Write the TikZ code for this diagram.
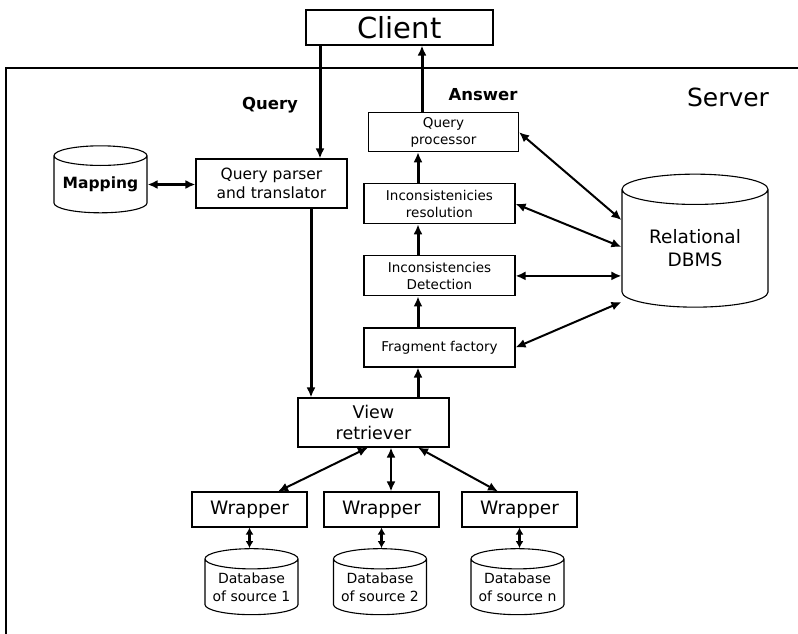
\documentclass[tikz,border=0pt]{standalone}
\usepackage{fontspec}
\setmainfont{DejaVu Sans}
\usetikzlibrary{arrows.meta, positioning, shapes.geometric}

\begin{document}
\begin{tikzpicture}[x=1pt, y=1pt,
        box/.style={draw, line width=1.1pt, inner sep=0pt, align=center},
        smallbox/.style={box, minimum width=151pt, minimum height=40pt, font=\fontsize{13.5}{17}\selectfont},
        wrapbox/.style={box, minimum width=115pt, minimum height=35pt, font=\fontsize{18.5}{22}\selectfont},
        dbase/.style={draw, line width=1.1pt, cylinder, shape border rotate=90, aspect=0.26, inner sep=0pt, align=center},
        srcdb/.style={dbase, minimum width=93pt, minimum height=66pt, font=\fontsize{14}{18}\selectfont},
        flow/.style={line width=3pt, -{Latex[length=10pt, width=9pt]}},
        link/.style={line width=2.2pt, {Latex[length=10pt, width=9pt]}-{Latex[length=10pt, width=9pt]}},
        shortlink/.style={line width=3pt, {Latex[length=7pt, width=8pt]}-{Latex[length=7pt, width=8pt]}},
        tag/.style={font=\fontsize{16.5}{20}\selectfont\bfseries}]
    \useasboundingbox (0,0) rectangle (798,-634);
    \draw[line width=1.1pt] (798,-68) -| (6,-634);
    \node[box, minimum width=187pt, minimum height=35pt, font=\fontsize{29}{34}\selectfont] (client) at (399.5,-27.5) {Client};
    \node[font=\fontsize{25}{28}\selectfont] (server) at (728,-97) {Server};
    \node[tag] (query) at (270,-105) {Query};
    \node[tag] (answer) at (483,-95) {Answer};

    \node[box, minimum width=151pt, minimum height=49pt, font=\fontsize{15.5}{19}\selectfont] (parser) at (271.5,-183.5) {Query parser\\and translator};
    \node[dbase, minimum width=93pt, minimum height=67pt, font=\fontsize{15.5}{19}\selectfont\bfseries] (mapping) at (100.5,-184.5) {Mapping};

    \node[smallbox, minimum height=39pt] (fragment) at (439.5,-347.5) {Fragment factory};
    \node[smallbox, above=31pt of fragment] (detect) {Inconsistencies\\Detection};
    \node[smallbox, above=31pt of detect] (resol) {Inconsistenicies\\resolution};
    \node[smallbox, minimum width=150pt, minimum height=39pt, above=31pt of resol, xshift=4pt] (qproc) {Query\\processor};
    \node[dbase, aspect=0.33, minimum width=146pt, minimum height=133pt, font=\fontsize{18.5}{23}\selectfont] (dbms) at (695,-248.5) {Relational\\DBMS};

    \node[box, minimum width=151pt, minimum height=49pt, font=\fontsize{17.5}{21}\selectfont] (view) at (373.5,-422.5) {View\\retriever};
    \node[wrapbox] (wrapA) at (249.5,-509.5) {Wrapper};
    \node[wrapbox] (wrapB) at (381.5,-509.5) {Wrapper};
    \node[wrapbox] (wrapC) at (519.5,-509.5) {Wrapper};
    \node[srcdb] (srcA) at (251.5,-587) {Database\\of source 1};
    \node[srcdb] (srcB) at (380,-587) {Database\\of source 2};
    \node[srcdb] (srcC) at (517.5,-587) {Database\\of source n};

    \coordinate (qlane) at (320,0);
    \coordinate (alane) at (422,0);
    \coordinate (plane) at (311,0);
    \coordinate (flane) at (418,0);

    \draw[flow] (client.south -| qlane) -- (parser.north -| qlane);
    \draw[flow] (qproc.north -| alane) -- (client.south -| alane);
    \draw[link] (mapping.east) -- (mapping.east -| parser.west);
    \draw[flow] (parser.south -| plane) -- (view.north -| plane);
    \draw[flow] (view.north -| flane) -- (fragment.south -| flane);
    \foreach \a/\b in {fragment/detect, detect/resol, resol/qproc}
        \draw[flow] (\a.north -| flane) -- (\b.south -| flane);

    \draw[link, line width=2pt] (qproc.east) -- ([yshift=28.5pt]dbms.west);
    \draw[link, line width=2pt] (resol.east) -- ([yshift=1.5pt]dbms.west);
    \draw[link, line width=2pt] (detect.east) -- (detect.east -| dbms.west);
    \draw[link, line width=2pt] (fragment.east) -- ([yshift=-53.5pt]dbms.west);

    \draw[link, line width=2pt] ([xshift=-5.5pt]view.south) -- ([xshift=28.5pt]wrapA.north);
    \draw[link] ([xshift=17.5pt]view.south) -- ([xshift=9.5pt]wrapB.north);
    \draw[link, line width=2pt] ([xshift=44.5pt]view.south) -- ([xshift=-21.5pt]wrapC.north);
    \foreach \s in {A,B,C}
        \draw[shortlink] (wrap\s.south) -- (wrap\s.south |- src\s.north);
\end{tikzpicture}
\end{document}
